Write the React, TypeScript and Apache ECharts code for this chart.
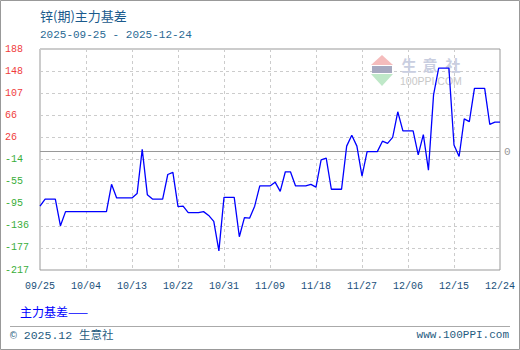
import React, { useEffect, useRef } from "react";
import * as echarts from "echarts";

// ---- data ----
const START_YEAR = 2025;
const START_MONTH = 9; // September
const START_DAY = 25;
const DAY_COUNT = 91;

const BASIS = [
  -100, -87, -87, -87, -136, -110,
  -110, -110, -110, -110, -110, -110, -110, -110,
  -60, -85, -85, -85, -85, -77, 4, -79, -87, -87, -87,
  -42, -38, -101, -100, -112, -112, -112, -110, -117, -128, -182,
  -84, -84, -84, -156, -121, -122, -100, -63, -63, -63,
  -56, -73, -37, -37, -63, -63, -63, -60, -65, -15, -12, -69, -69, -69,
  10, 30, 10, -45, 0, 0, 0, 19, 15, 26, 73, 38, 38, 38,
  -6, 31, -34, 104, 153, 153, 153, 12, -9, 60, 55, 116, 116, 116,
  50, 54, 54,
];

const Y_TICK_VALUES = [-217, -176.5, -136, -95.5, -55, -14.5, 26, 66.5, 107, 147.5, 188];
const Y_TICK_LABELS = ["-217", "-177", "-136", "-95", "-55", "-14", "26", "66", "107", "148", "188"];
const Y_MIN = -217;
const Y_MAX = 188;

const TITLE = "锌(期)主力基差";
const SUBTITLE = "2025-09-25 - 2025-12-24";
const SERIES_NAME = "主力基差";
const FOOTER_LEFT = "© 2025.12 生意社";
const FOOTER_RIGHT = "www.100PPI.com";
const WM_CHARS = ["生", "意", "社"];
const WM_SUB = "100PPI.COM";

function buildDates(): string[] {
  const out: string[] = [];
  const base = Date.UTC(START_YEAR, START_MONTH - 1, START_DAY);
  for (let i = 0; i < DAY_COUNT; i++) {
    const d = new Date(base + i * 86400000);
    out.push(
      String(d.getUTCMonth() + 1).padStart(2, "0") + "/" + String(d.getUTCDate()).padStart(2, "0")
    );
  }
  return out;
}

const MONO = "'Liberation Mono', 'DejaVu Sans Mono', monospace";
const CJK = "'Noto Sans CJK SC', 'Noto Sans', sans-serif";

export default function App() {
  const ref = useRef<HTMLDivElement>(null);
  useEffect(() => {
    if (!ref.current) return;
    const chart = echarts.init(ref.current, undefined, { renderer: "svg" });
    const dates = buildDates();
    const option: any = {
      animation: false,
      backgroundColor: "#ffffff",
      grid: {
        left: 40,
        top: 49,
        width: 460,
        height: 221,
        show: true,
        borderColor: "#999999",
        borderWidth: 1,
        backgroundColor: "transparent",
      },
      xAxis: {
        type: "category",
        data: dates,
        boundaryGap: false,
        axisLine: { show: false },
        axisTick: { show: false },
        axisLabel: {
          interval: 8,
          margin: 11,
          color: "#1a4f7a",
          fontSize: 10,
          fontFamily: MONO,
        },
        splitLine: {
          show: true,
          interval: 8,
          lineStyle: { color: "#cccccc", type: [3, 3], width: 1 },
        },
      },
      yAxis: {
        type: "value",
        min: Y_MIN,
        max: Y_MAX,
        axisLine: { show: false },
        axisTick: { show: false, customValues: Y_TICK_VALUES },
        axisLabel: {
          customValues: Y_TICK_VALUES,
          align: "left",
          margin: 35,
          fontSize: 10,
          fontFamily: MONO,
          formatter: (v: number) => {
            const i = Y_TICK_VALUES.findIndex((t) => Math.abs(t - v) < 0.01);
            return i >= 0 ? Y_TICK_LABELS[i] : "";
          },
          color: (v: any) => (Number(v) >= 0 ? "#f03c3c" : "#3aae3a"),
        },
        splitLine: {
          show: true,
          lineStyle: { color: "#cccccc", type: [3, 3], width: 1 },
        },
      },
      series: [
        {
          name: SERIES_NAME,
          type: "line",
          data: BASIS,
          symbol: "none",
          lineStyle: { color: "#0000ff", width: 1.3 },
          itemStyle: { color: "#0000ff" },
          z: 5,
          markLine: {
            silent: true,
            symbol: "none",
            animation: false,
            lineStyle: { color: "#999999", type: "solid", width: 1 },
            label: {
              show: true,
              position: "end",
              formatter: "0",
              color: "#999999",
              fontSize: 11,
              fontFamily: MONO,
              distance: 4,
            },
            data: [{ yAxis: 0 }],
          },
        },
      ],
      graphic: [
        {
          type: "rect",
          shape: { x: 0.5, y: 0.5, width: 519, height: 349 },
          style: { fill: "none", stroke: "#999999", lineWidth: 1 },
          silent: true,
        },
        {
          type: "line",
          shape: { x1: 10, y1: 326.5, x2: 510, y2: 326.5 },
          style: { stroke: "#aaaaaa", lineWidth: 1 },
          silent: true,
        },
        {
          type: "text",
          x: 40,
          y: 15,
          style: {
            text: TITLE,
            fill: "#1a5a8c",
            font: `13px ${CJK}`,
            textVerticalAlign: "middle",
          },
        },
        {
          type: "text",
          x: 40,
          y: 35,
          style: {
            text: SUBTITLE,
            fill: "#2a6a94",
            font: `11px ${MONO}`,
            textVerticalAlign: "middle",
          },
        },
        {
          type: "text",
          x: 20,
          y: 311,
          style: {
            text: SERIES_NAME + "——",
            fill: "#0000ff",
            font: `12px ${CJK}`,
            textVerticalAlign: "middle",
          },
        },
        {
          type: "text",
          x: 10,
          y: 335,
          style: {
            text: FOOTER_LEFT,
            fill: "#1f5b80",
            font: `11.5px ${MONO}, ${CJK}`,
            textVerticalAlign: "middle",
          },
        },
        {
          type: "text",
          x: 509,
          y: 335,
          style: {
            text: FOOTER_RIGHT,
            fill: "#1f5b80",
            font: `11px ${MONO}`,
            textAlign: "right",
            textVerticalAlign: "middle",
          },
        },
        // watermark logo
        {
          type: "polygon",
          z: 1,
          shape: { points: [[382, 55], [371, 65], [393, 65]] },
          style: { fill: "#f5bcbc" },
          silent: true,
        },
        {
          type: "rect",
          z: 1,
          shape: { x: 372, y: 66, width: 20, height: 7 },
          style: { fill: "#a7a9c0" },
          silent: true,
        },
        {
          type: "polygon",
          z: 1,
          shape: { points: [[371, 74], [393, 74], [382, 86]] },
          style: { fill: "#bfe8c8" },
          silent: true,
        },
        ...WM_CHARS.map((c, i) => ({
          type: "text",
          z: 1,
          x: [409, 430, 453][i],
          y: 64,
          silent: true,
          style: {
            text: c,
            fill: "#c9cee0",
            font: `bold 15px ${CJK}`,
            textAlign: "center",
            textVerticalAlign: "middle",
          },
        })),
        {
          type: "text",
          z: 1,
          x: 400,
          y: 81,
          silent: true,
          style: {
            text: WM_SUB,
            fill: "#c8c8c8",
            font: `10.5px 'Liberation Sans', sans-serif`,
            textVerticalAlign: "middle",
          },
        },
      ],
    };
    chart.setOption(option);
    return () => chart.dispose();
  }, []);
  return (
    <div
      ref={ref}
      style={{ position: "absolute", left: 0, top: 0, width: 520, height: 350 }}
    />
  );
}
